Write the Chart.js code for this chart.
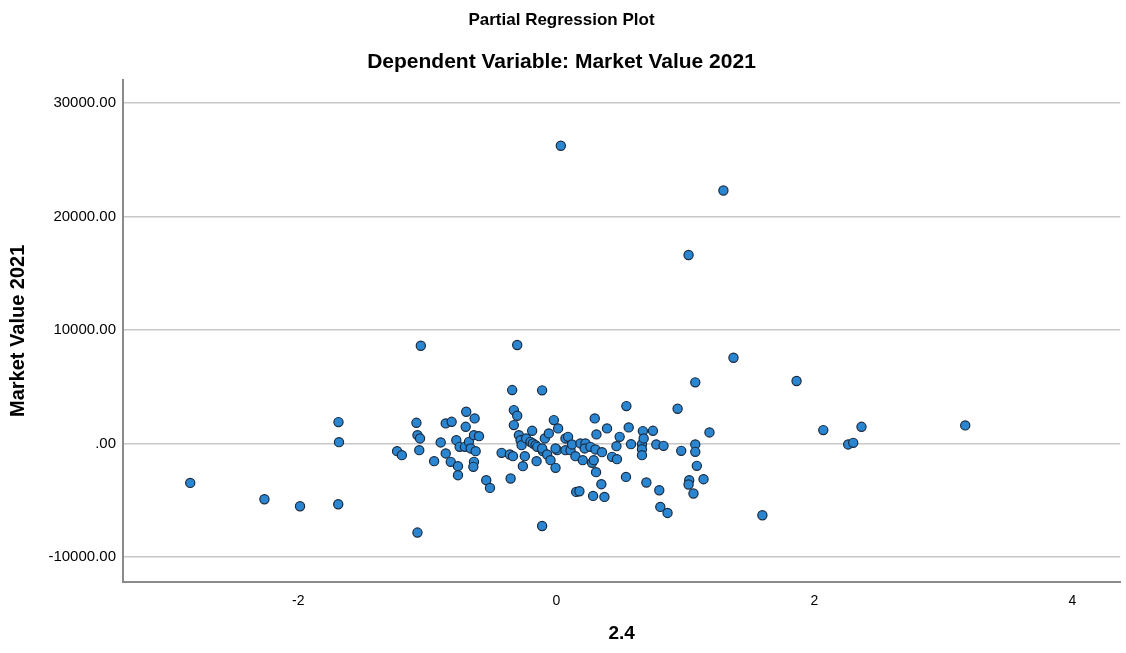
<!DOCTYPE html>
<html lang="en">
<head>
    <meta charset="UTF-8">
    <title>Partial Regression Plot</title>
    <script src="https://cdn.jsdelivr.net/npm/chart.js"></script>
    <style>
        html, body { margin: 0; padding: 0; background: #ffffff; }
        .chart-container { width: 1126px; height: 653px; position: relative; }
    </style>
</head>
<body>
    <div class="chart-container">
        <canvas id="regChart"></canvas>
    </div>

    <script>
        // partial residuals: x = "2.4", y = Market Value 2021
        const xValues = [
            -2.837, -2.262, -1.986, -1.690, -1.688, -1.684, -1.234, -1.197, -1.050, -1.076,
            -1.084, -1.076, -1.056, -1.062, -0.947, -0.896, -0.857, -0.811, -0.857, -0.818,
            -0.762, -0.762, -0.775, -0.749, -0.708, -0.698, -0.702, -0.633, -0.677, -0.664,
            -0.638, -0.599, -0.625, -0.638, -0.643, -0.543, -0.514, -0.424, -0.354, -0.360,
            -0.336, -0.329, -0.303, -0.329, -0.290, -0.303, -0.342, -0.110, -0.110, -0.277,
            -0.269, -0.244, -0.259, -0.234, -0.187, -0.200, -0.182, -0.161, -0.148, -0.153,
            -0.104, -0.110, -0.089, -0.058, -0.019, 0.014, -0.071, -0.045, -0.006, 0.006,
            -0.006, 0.071, 0.071, 0.091, 0.110, 0.122, 0.148, 0.154, 0.179, 0.187,
            0.226, 0.220, 0.264, 0.303, 0.354, 0.205, 0.277, 0.290, 0.308, 0.298,
            0.393, 0.311, 0.491, 0.561, 0.671, 0.749, 0.543, 0.466, 0.432, 0.470,
            0.579, 0.664, 0.664, 0.664, 0.677, 0.775, 0.831, 0.968, 0.940, 1.077,
            1.077, 1.089, 1.141, 1.030, 1.025, 1.063, 0.540, 0.698, 0.798, 0.806,
            0.862, 0.349, 0.285, 0.373, 1.187, 1.077, 1.373, 1.025, 1.295, 0.035,
            1.597, 1.862, 2.069, 2.365, 2.262, 2.301, 3.169
        ];
        const yValues = [
            -3477, -4915, -5533, -5356, 1880, 115, -679, -1032, 8612, -7853,
            1818, 732, 441, -591, -1562, 88, 1765, 1906, -882, -1624,
            -2003, -2797, 291, -300, -300, 2788, 1465, 2206, 141, -441,
            732, 644, -679, -1624, -2065, -3238, -3918, -829, -3088, -971,
            -1121, 2938, 2435, 1615, 732, 8674, 4703, 4677, -7271, 291,
            -150, -1121, -2003, 441, 1112, 141, 0, -150, -300, -1562,
            -679, -441, 441, 882, 2056, 1324, -971, -1474, -2153, -591,
            -441, -591, 441, 582, -591, -88, -1121, -4271, -4209, 0,
            0, -441, -300, -529, -768, -1474, -1712, -1474, -2532, 2206,
            1324, 794, 582, 1412, 1085, 1112, 3291, -238, -1182, -1385,
            -62, -62, -503, -1032, 441, -88, -212, -653, 3053, -88,
            -741, -1977, -3150, -3238, -3618, -4412, -2947, -3441, -4121, -5594,
            -6124, -3591, -4624, -4712, 970, 5383, 7553, 16600, 22290, 26230,
            -6327, 5497, 1174, 1465, -88, 53, 1588
        ];

        const xTickValues = [-2, 0, 2, 4];
        const xTickLabels = ['-2', '0', '2', '4'];
        const yTickValues = [-10000, 0, 10000, 20000, 30000];
        const yTickLabels = ['-10000.00', '.00', '10000.00', '20000.00', '30000.00'];

        const points = xValues.map((x, i) => ({ x: x, y: yValues[i] }));

        new Chart(document.getElementById('regChart'), {
            type: 'scatter',
            data: {
                datasets: [{
                    data: points,
                    backgroundColor: '#2a86d0',
                    borderColor: '#1a2b40',
                    borderWidth: 1.2,
                    pointRadius: 4.6,
                    pointHoverRadius: 4.6
                }]
            },
            options: {
                responsive: true,
                maintainAspectRatio: false,
                animation: false,
                layout: {
                    padding: { left: 0, right: 3, top: 0, bottom: 0 }
                },
                plugins: {
                    legend: { display: false },
                    tooltip: { enabled: false },
                    title: {
                        display: true,
                        text: 'Partial Regression Plot',
                        color: '#000000',
                        font: { family: 'Liberation Sans', size: 17, weight: 'bold' },
                        padding: { top: 10, bottom: 19 }
                    },
                    subtitle: {
                        display: true,
                        text: 'Dependent Variable: Market Value 2021',
                        color: '#000000',
                        font: { family: 'Liberation Sans', size: 21, weight: 'bold' },
                        padding: { top: 0, bottom: 5 }
                    }
                },
                scales: {
                    x: {
                        type: 'linear',
                        min: -3.358,
                        max: 4.37,
                        afterBuildTicks: (axis) => {
                            axis.ticks = xTickValues.map(v => ({ value: v }));
                        },
                        afterFit: (axis) => { axis.height = 71; },
                        ticks: {
                            color: '#000000',
                            padding: 11,
                            font: { family: 'Liberation Sans', size: 14 },
                            callback: (value) => xTickLabels[xTickValues.indexOf(value)]
                        },
                        grid: { display: false, drawTicks: false },
                        border: { display: true, color: '#8a8a8a', width: 2 },
                        title: {
                            display: true,
                            text: '2.4',
                            color: '#000000',
                            font: { family: 'Liberation Sans', size: 19, weight: 'bold' },
                            padding: { top: 0, bottom: 8 }
                        }
                    },
                    y: {
                        type: 'linear',
                        min: -12210,
                        max: 32060,
                        afterBuildTicks: (axis) => {
                            axis.ticks = yTickValues.map(v => ({ value: v }));
                        },
                        afterFit: (axis) => { axis.width = 123; },
                        ticks: {
                            color: '#000000',
                            padding: 7,
                            font: { family: 'Liberation Sans', size: 15 },
                            callback: (value) => yTickLabels[yTickValues.indexOf(value)]
                        },
                        grid: { color: '#c8c8c8', lineWidth: 1.5, drawTicks: false },
                        border: { display: true, color: '#8a8a8a', width: 2 },
                        title: {
                            display: true,
                            text: 'Market Value 2021',
                            color: '#000000',
                            font: { family: 'Liberation Sans', size: 20, weight: 'bold' },
                            padding: { top: 6, bottom: 0 }
                        }
                    }
                }
            }
        });
    </script>
</body>
</html>
